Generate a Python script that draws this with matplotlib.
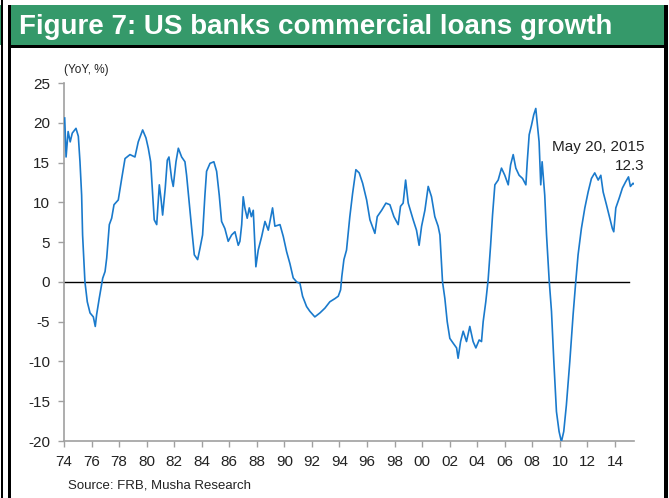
import matplotlib
matplotlib.use("Agg")
import matplotlib.pyplot as plt
from matplotlib.patches import Rectangle

# ---- data ----
years = [1974.05, 1974.15, 1974.3, 1974.45, 1974.6, 1974.87, 1975.04, 1975.16, 1975.28, 1975.35,
         1975.52, 1975.69, 1975.89, 1976.13, 1976.27, 1976.37, 1976.56, 1976.81, 1976.98, 1977.1,
         1977.29, 1977.46, 1977.63, 1977.94, 1978.19, 1978.43, 1978.79, 1979.15, 1979.39, 1979.71,
         1979.95, 1980.12, 1980.29, 1980.44, 1980.55, 1980.73, 1980.92, 1981.04, 1981.16, 1981.35,
         1981.5, 1981.62, 1981.81, 1981.93, 1982.13, 1982.3, 1982.54, 1982.78, 1982.9, 1983.1,
         1983.27, 1983.46, 1983.7, 1983.87, 1984.06, 1984.23, 1984.35, 1984.6, 1984.88, 1985.08,
         1985.27, 1985.44, 1985.68, 1985.92, 1986.17, 1986.41, 1986.65, 1986.77, 1986.9, 1987.01,
         1987.13, 1987.3, 1987.45, 1987.6, 1987.74, 1987.93, 1988.1, 1988.35, 1988.59, 1988.83,
         1989.14, 1989.31, 1989.68, 1989.92, 1990.16, 1990.4, 1990.64, 1990.89, 1991.13, 1991.32,
         1991.61, 1991.85, 1992.21, 1992.58, 1992.94, 1993.3, 1993.67, 1993.91, 1994.08, 1994.17,
         1994.32, 1994.51, 1994.75, 1994.95, 1995.19, 1995.43, 1995.68, 1995.97, 1996.21, 1996.57,
         1996.74, 1997.06, 1997.37, 1997.66, 1997.95, 1998.26, 1998.43, 1998.62, 1998.8, 1998.99,
         1999.35, 1999.59, 1999.78, 1999.96, 2000.2, 2000.44, 2000.68, 2000.92, 2001.16, 2001.29,
         2001.48, 2001.65, 2001.82, 2002.01, 2002.25, 2002.5, 2002.61, 2002.79, 2002.98, 2003.22,
         2003.46, 2003.7, 2003.9, 2004.14, 2004.31, 2004.43, 2004.62, 2004.79, 2004.97, 2005.11,
         2005.28, 2005.52, 2005.76, 2006.0, 2006.25, 2006.42, 2006.61, 2006.8, 2007.04, 2007.29,
         2007.53, 2007.63, 2007.77, 2007.94, 2008.1, 2008.25, 2008.35, 2008.49, 2008.61, 2008.71,
         2008.9, 2009.03, 2009.22, 2009.39, 2009.56, 2009.75, 2009.94, 2010.11, 2010.28, 2010.47,
         2010.72, 2010.96, 2011.15, 2011.32, 2011.56, 2011.81, 2012.05, 2012.29, 2012.53, 2012.78,
         2012.97, 2013.14, 2013.38, 2013.62, 2013.81, 2013.91, 2014.06, 2014.3, 2014.54, 2014.78,
         2014.98, 2015.12, 2015.31, 2015.38]
growth = [20.6, 15.7, 18.9, 17.6, 18.7, 19.3, 18.3, 15.1, 10.9, 5.9,
          0.0, -2.5, -3.9, -4.4, -5.6, -4.1, -2.05, 0.46, 1.3, 3.0,
          7.2, 8.0, 9.7, 10.3, 13.0, 15.5, 16.0, 15.7, 17.6, 19.1,
          18.1, 16.8, 15.1, 10.9, 7.8, 7.2, 12.2, 10.5, 8.4, 11.8,
          15.3, 15.7, 13.0, 12.0, 15.1, 16.8, 15.7, 15.1, 13.4, 9.7,
          6.7, 3.4, 2.8, 4.2, 5.9, 10.9, 13.9, 14.9, 15.1, 13.9,
          10.9, 7.6, 6.7, 5.1, 5.9, 6.3, 4.6, 5.1, 7.2, 10.7,
          9.3, 8.0, 9.3, 8.2, 9.0, 1.9, 4.0, 5.7, 7.6, 6.5,
          9.3, 7.0, 7.2, 5.7, 3.8, 2.3, 0.5, 0.0, -0.2, -1.8,
          -3.1, -3.7, -4.4, -3.9, -3.3, -2.5, -2.1, -1.8, -1.0, 0.7,
          2.8, 4.0, 8.2, 11.1, 14.1, 13.7, 12.4, 10.3, 7.8, 6.1,
          8.2, 9.0, 9.9, 9.7, 8.2, 7.2, 9.5, 9.9, 12.8, 9.9,
          7.8, 6.5, 4.6, 7.0, 9.0, 12.0, 10.7, 8.2, 7.0, 5.9,
          0.0, -2.1, -5.0, -7.1, -7.7, -8.3, -9.6, -7.5, -6.2, -7.5,
          -5.6, -7.5, -8.3, -7.3, -7.5, -5.0, -2.5, 0.25, 4.6, 8.4,
          12.2, 12.8, 14.3, 13.4, 12.2, 14.7, 16.0, 14.3, 13.4, 13.0,
          12.2, 15.1, 18.5, 19.7, 21.0, 21.8, 20.1, 17.6, 12.2, 15.1,
          10.9, 5.9, 0.25, -3.7, -10.0, -16.3, -18.8, -20.1, -18.8, -15.5,
          -10.0, -4.1, 0.0, 3.4, 6.7, 9.3, 11.3, 13.0, 13.7, 12.8,
          13.4, 11.3, 9.7, 8.0, 6.7, 6.3, 9.3, 10.5, 11.8, 12.6,
          13.2, 12.0, 12.4, 12.3]

tick_years = list(range(1974, 2015, 2))
tick_labels = [f"{y % 100:02d}" for y in tick_years]
y_ticks = [-20, -15, -10, -5, 0, 5, 10, 15, 20, 25]

plt.rcParams['font.family'] = ['Liberation Sans', 'DejaVu Sans']

W, H = 669, 498
fig = plt.figure(figsize=(W / 100, H / 100), dpi=100)
fig.patch.set_facecolor('white')

def px_rect(x0, y0, x1, y1, color):
    fig.add_artist(Rectangle((x0 / W, 1 - y1 / H), (x1 - x0) / W, (y1 - y0) / H,
                             transform=fig.transFigure, facecolor=color,
                             edgecolor='none', zorder=0))

# frame / banner
green = '#35996a'
px_rect(0, 5, 1, 45, green)
px_rect(1, 0, 3, H, 'black')
px_rect(11, 5, 664, 45, green)
px_rect(8, 5, 11, H, 'black')
px_rect(8, 45, 668, 48, 'black')
px_rect(664, 5, 668, H, 'black')

fig.text(19 / W, 1 - 27 / H, "Figure 7: US banks commercial loans growth",
         color='white', fontsize=20, fontweight='bold', va='center', ha='left')

ax = fig.add_axes([64 / W, 1 - 441 / H, (634 - 64) / W, (441 - 83) / H])
ax.set_facecolor('none')
ax.plot(years, growth, color='#1a7acc', linewidth=1.2, zorder=3)
ax.plot([1974, 2015.0], [0, 0], color='black', linewidth=1.0, zorder=2)

ax.set_xlim(1974, 2015.38)
ax.set_ylim(-20, 25)
ax.set_xticks(tick_years)
ax.set_xticklabels(tick_labels)
ax.set_yticks(y_ticks)
ax.set_yticklabels([str(v) for v in y_ticks])

for s in ['top', 'right']:
    ax.spines[s].set_visible(False)
for s in ['left', 'bottom']:
    ax.spines[s].set_color('#a0a0a0')
    ax.spines[s].set_linewidth(1.2)
ax.tick_params(axis='both', colors='#a0a0a0', labelcolor='#222222', length=4,
               width=1.0, labelsize=11)
ax.tick_params(axis='x', pad=6)
ax.tick_params(axis='y', pad=6)

fig.text(64 / W, 1 - 70 / H, "(YoY, %)", fontsize=8.5, color='#222222', ha='left', va='center')
fig.text(645 / W, 1 - 147 / H, "May 20, 2015", fontsize=11, color='#222222', ha='right', va='center')
fig.text(645 / W, 1 - 166 / H, "12.3", fontsize=11, color='#222222', ha='right', va='center')
fig.text(68 / W, 1 - 485 / H, "Source: FRB, Musha Research", fontsize=9.5, color='#222222',
         ha='left', va='center')

fig.savefig('out.png', dpi=100)
